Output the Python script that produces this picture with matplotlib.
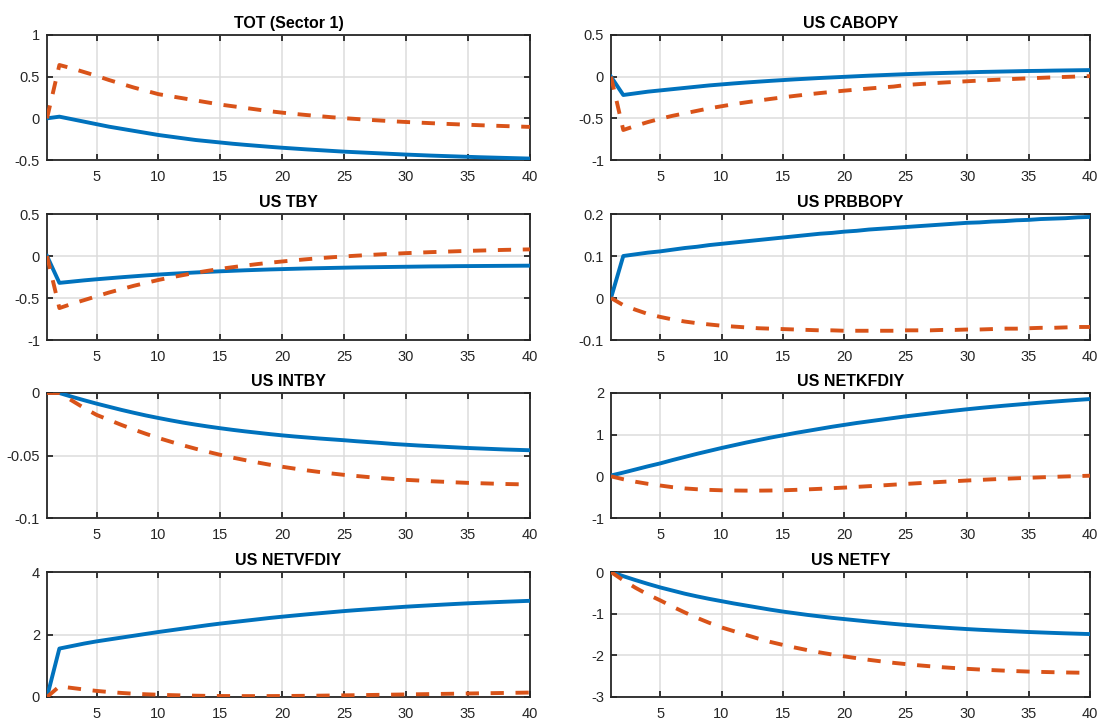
import matplotlib
matplotlib.use("Agg")
import matplotlib.pyplot as plt
import numpy as np

plt.rcParams['font.family'] = ['Liberation Sans', 'DejaVu Sans']

periods = list(range(1, 41))

titles = ["TOT (Sector 1)", "US CABOPY", "US TBY", "US PRBBOPY",
          "US INTBY", "US NETKFDIY", "US NETVFDIY", "US NETFY"]

tot_blue = [0, 0.02, -0.01, -0.04, -0.07, -0.10, -0.125, -0.15, -0.175, -0.20,
            -0.22, -0.24, -0.26, -0.275, -0.29, -0.305, -0.318, -0.33, -0.342, -0.353,
            -0.363, -0.373, -0.382, -0.391, -0.40, -0.407, -0.414, -0.421, -0.428, -0.435,
            -0.441, -0.447, -0.452, -0.457, -0.462, -0.467, -0.471, -0.475, -0.479, -0.483]
tot_orange = [0, 0.64, 0.60, 0.555, 0.51, 0.46, 0.415, 0.37, 0.33, 0.29,
              0.265, 0.24, 0.215, 0.19, 0.165, 0.145, 0.125, 0.105, 0.085, 0.068,
              0.053, 0.039, 0.026, 0.013, 0.002, -0.008, -0.018, -0.027, -0.036, -0.044,
              -0.051, -0.058, -0.065, -0.071, -0.077, -0.083, -0.088, -0.093, -0.098, -0.103]

cabopy_blue = [0, -0.22, -0.20, -0.18, -0.165, -0.15, -0.135, -0.12, -0.105, -0.093,
               -0.081, -0.07, -0.06, -0.05, -0.041, -0.032, -0.024, -0.016, -0.009, -0.002,
               0.005, 0.012, 0.018, 0.024, 0.03, 0.035, 0.04, 0.044, 0.048, 0.052,
               0.056, 0.059, 0.062, 0.065, 0.068, 0.07, 0.073, 0.075, 0.077, 0.079]
cabopy_orange = [0, -0.64, -0.59, -0.545, -0.505, -0.47, -0.44, -0.41, -0.38, -0.355,
                 -0.33, -0.308, -0.287, -0.267, -0.248, -0.23, -0.213, -0.197, -0.182, -0.168,
                 -0.155, -0.142, -0.13, -0.119, -0.1, -0.09, -0.08, -0.071, -0.063, -0.055,
                 -0.047, -0.04, -0.033, -0.026, -0.02, -0.014, -0.008, -0.003, 0.002, 0.007]

tby_blue = [0, -0.32, -0.305, -0.29, -0.277, -0.265, -0.253, -0.242, -0.231, -0.221,
            -0.212, -0.204, -0.196, -0.189, -0.182, -0.176, -0.17, -0.165, -0.16, -0.156,
            -0.152, -0.148, -0.145, -0.142, -0.139, -0.136, -0.134, -0.132, -0.13, -0.128,
            -0.126, -0.124, -0.123, -0.121, -0.12, -0.119, -0.118, -0.117, -0.116, -0.115]
tby_orange = [0, -0.62, -0.57, -0.525, -0.48, -0.435, -0.395, -0.355, -0.32, -0.285,
              -0.255, -0.227, -0.2, -0.176, -0.153, -0.133, -0.114, -0.096, -0.08, -0.065,
              -0.051, -0.038, -0.026, -0.015, -0.005, 0.004, 0.012, 0.02, 0.027, 0.034,
              0.04, 0.046, 0.051, 0.056, 0.061, 0.065, 0.069, 0.073, 0.076, 0.079]

prb_blue = [0, 0.100, 0.104, 0.108, 0.111, 0.115, 0.119, 0.122, 0.126, 0.129,
            0.132, 0.135, 0.138, 0.141, 0.144, 0.147, 0.15, 0.153, 0.155, 0.158,
            0.16, 0.163, 0.165, 0.167, 0.169, 0.171, 0.173, 0.175, 0.177, 0.179,
            0.18, 0.182, 0.183, 0.185, 0.186, 0.188, 0.189, 0.19, 0.192, 0.193]
prb_orange = [0, -0.017, -0.028, -0.038, -0.045, -0.051, -0.056, -0.06, -0.063, -0.066,
              -0.068, -0.07, -0.072, -0.073, -0.074, -0.075, -0.076, -0.077, -0.077, -0.078,
              -0.078, -0.078, -0.078, -0.078, -0.077, -0.077, -0.077, -0.076, -0.076, -0.075,
              -0.075, -0.074, -0.073, -0.073, -0.072, -0.071, -0.071, -0.07, -0.069, -0.069]

intby_blue = [0, 0, -0.003, -0.0058, -0.0085, -0.011, -0.0135, -0.0158, -0.018, -0.02,
              -0.0219, -0.0237, -0.0253, -0.0268, -0.0282, -0.0295, -0.0307, -0.0318, -0.0329, -0.0339,
              -0.0348, -0.0356, -0.0364, -0.0371, -0.0378, -0.0386, -0.0393, -0.04, -0.0408, -0.0414,
              -0.042, -0.0425, -0.043, -0.0435, -0.044, -0.0444, -0.0448, -0.0452, -0.0455, -0.0458]
intby_orange = [0, 0, -0.006, -0.012, -0.0175, -0.0215, -0.0255, -0.0292, -0.0327, -0.036,
                -0.039, -0.0419, -0.0446, -0.0471, -0.0495, -0.0517, -0.0537, -0.0556, -0.0574, -0.059,
                -0.0605, -0.0619, -0.0632, -0.0644, -0.0655, -0.0664, -0.0673, -0.0681, -0.0688, -0.0695,
                -0.07, -0.0706, -0.071, -0.0715, -0.0719, -0.0722, -0.0725, -0.0728, -0.073, -0.0732]

netkf_blue = [0.02, 0.09, 0.165, 0.24, 0.31, 0.39, 0.465, 0.54, 0.61, 0.68,
              0.745, 0.81, 0.87, 0.93, 0.985, 1.04, 1.09, 1.14, 1.19, 1.235,
              1.28, 1.32, 1.36, 1.40, 1.44, 1.475, 1.51, 1.545, 1.578, 1.61,
              1.64, 1.668, 1.695, 1.72, 1.745, 1.77, 1.792, 1.814, 1.835, 1.855]
netkf_orange = [0, -0.07, -0.13, -0.18, -0.22, -0.26, -0.29, -0.31, -0.325, -0.335,
                -0.34, -0.343, -0.343, -0.34, -0.335, -0.325, -0.313, -0.3, -0.285, -0.27,
                -0.253, -0.236, -0.219, -0.2, -0.182, -0.165, -0.148, -0.132, -0.116, -0.1,
                -0.086, -0.072, -0.059, -0.047, -0.035, -0.024, -0.013, -0.003, 0.006, 0.015]

netvf_blue = [0, 1.55, 1.63, 1.71, 1.78, 1.84, 1.9, 1.96, 2.02, 2.08,
              2.135, 2.19, 2.245, 2.3, 2.35, 2.395, 2.44, 2.485, 2.53, 2.57,
              2.608, 2.645, 2.68, 2.715, 2.75, 2.78, 2.808, 2.836, 2.863, 2.89,
              2.913, 2.935, 2.957, 2.978, 2.998, 3.015, 3.032, 3.048, 3.063, 3.078]
netvf_orange = [0, 0.34, 0.29, 0.24, 0.195, 0.16, 0.13, 0.105, 0.087, 0.072,
                0.06, 0.05, 0.042, 0.036, 0.032, 0.03, 0.029, 0.029, 0.03, 0.032,
                0.035, 0.039, 0.043, 0.048, 0.053, 0.058, 0.064, 0.07, 0.076, 0.082,
                0.088, 0.094, 0.1, 0.106, 0.112, 0.118, 0.124, 0.13, 0.136, 0.142]

netf_blue = [0, -0.1, -0.195, -0.285, -0.37, -0.445, -0.52, -0.585, -0.645, -0.70,
             -0.755, -0.805, -0.855, -0.905, -0.95, -0.99, -1.03, -1.065, -1.1, -1.13,
             -1.16, -1.19, -1.218, -1.245, -1.27, -1.292, -1.313, -1.333, -1.352, -1.37,
             -1.386, -1.4, -1.414, -1.427, -1.44, -1.451, -1.462, -1.472, -1.481, -1.49]
netf_orange = [0, -0.2, -0.38, -0.54, -0.68, -0.83, -0.97, -1.1, -1.22, -1.33,
               -1.42, -1.51, -1.6, -1.68, -1.75, -1.815, -1.875, -1.93, -1.98, -2.025,
               -2.068, -2.108, -2.145, -2.18, -2.21, -2.238, -2.263, -2.286, -2.306, -2.324,
               -2.34, -2.354, -2.367, -2.379, -2.39, -2.398, -2.405, -2.411, -2.416, -2.42]

blue_series = [tot_blue, cabopy_blue, tby_blue, prb_blue,
               intby_blue, netkf_blue, netvf_blue, netf_blue]
orange_series = [tot_orange, cabopy_orange, tby_orange, prb_orange,
                 intby_orange, netkf_orange, netvf_orange, netf_orange]

ylims = [(-0.5, 1), (-1, 0.5), (-1, 0.5), (-0.1, 0.2),
         (-0.1, 0), (-1, 2), (0, 4), (-3, 0)]
yticks = [[-0.5, 0, 0.5, 1], [-1, -0.5, 0, 0.5], [-1, -0.5, 0, 0.5], [-0.1, 0, 0.1, 0.2],
          [-0.1, -0.05, 0], [-1, 0, 1, 2], [0, 2, 4], [-3, -2, -1, 0]]
yticklabels = [["-0.5", "0", "0.5", "1"], ["-1", "-0.5", "0", "0.5"], ["-1", "-0.5", "0", "0.5"],
               ["-0.1", "0", "0.1", "0.2"], ["-0.1", "-0.05", "0"], ["-1", "0", "1", "2"],
               ["0", "2", "4"], ["-3", "-2", "-1", "0"]]
xticks = [5, 10, 15, 20, 25, 30, 35, 40]

BLUE = "#0072BD"
ORANGE = "#D95319"

fig = plt.figure(figsize=(10.99, 7.2), dpi=100)

lefts = [47 / 1099, 611 / 1099]
widths = [(530 - 47) / 1099, (1090 - 611) / 1099]
tops = [35, 214, 393, 572]
bottoms = [160, 340, 518, 697]

for i in range(8):
    r, c = divmod(i, 2)
    y0 = 1 - bottoms[r] / 720
    h = (bottoms[r] - tops[r]) / 720
    ax = fig.add_axes([lefts[c], y0, widths[c], h])
    ax.plot(periods, blue_series[i], color=BLUE, lw=2.8, zorder=3)
    ax.plot(periods, orange_series[i], color=ORANGE, lw=2.8, dashes=(3.4, 3.0), zorder=3)
    ax.set_xlim(1, 40)
    ax.set_ylim(*ylims[i])
    ax.set_xticks(xticks)
    ax.set_yticks(yticks[i])
    ax.set_yticklabels(yticklabels[i])
    ax.grid(True, color="#dcdcdc", lw=1.1)
    ax.set_axisbelow(True)
    ax.tick_params(direction='in', length=4, width=1.3, top=True, right=True,
                   labelsize=10.5, colors='#262626', labelcolor='#262626')
    ax.tick_params(axis='x', pad=7)
    ax.tick_params(axis='y', pad=5)
    for s in ax.spines.values():
        s.set_linewidth(1.3)
        s.set_color('#262626')
    ax.set_title(titles[i], fontsize=11.5, fontweight='bold', pad=5)

fig.savefig("out.png", dpi=100)
